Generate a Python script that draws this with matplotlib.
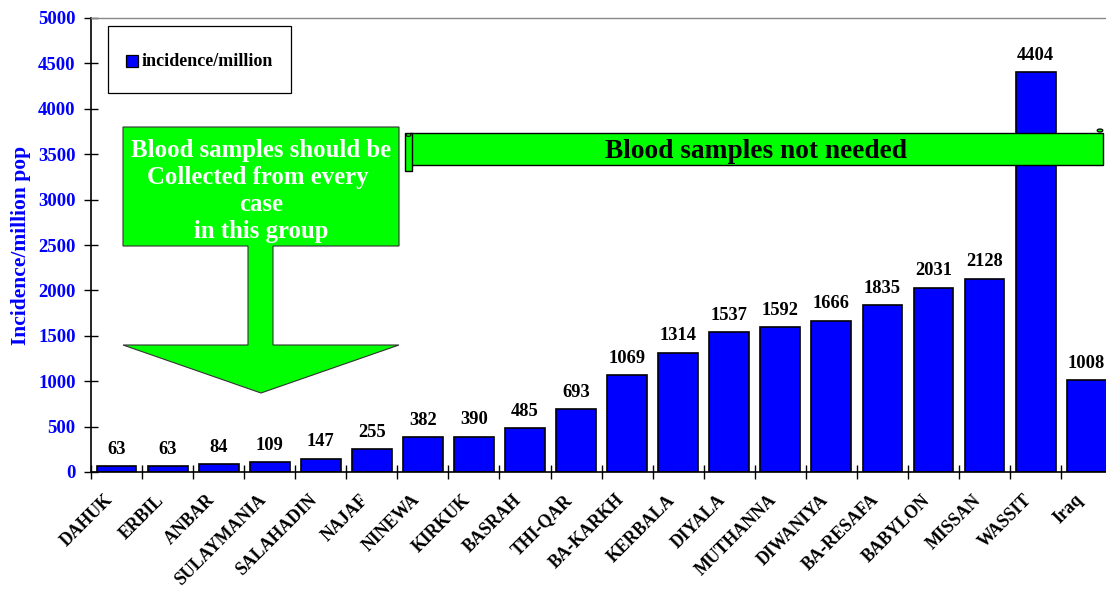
import numpy as np
import matplotlib
matplotlib.use("Agg")
import matplotlib.pyplot as plt
from matplotlib.patches import Polygon, Rectangle, Circle

# governorate incidence per million population
regions = ["DAHUK", "ERBIL", "ANBAR", "SULAYMANIA", "SALAHADIN", "NAJAF",
           "NINEWA", "KIRKUK", "BASRAH", "THI-QAR", "BA-KARKH", "KERBALA",
           "DIYALA", "MUTHANNA", "DIWANIYA", "BA-RESAFA", "BABYLON", "MISSAN",
           "WASSIT", "Iraq"]
incidence = [63, 63, 84, 109, 147, 255, 382, 390, 485, 693, 1069, 1314,
             1537, 1592, 1666, 1835, 2031, 2128, 4404, 1008]
yticks = list(range(0, 5001, 500))

plt.rcParams['font.family'] = ['Liberation Serif', 'DejaVu Serif']
plt.rcParams['font.weight'] = 'bold'

W, H = 1106, 591
fig = plt.figure(figsize=(W / 100, H / 100), dpi=100)


def px(x, y):
    # pixel position (from top-left) -> figure fraction
    return (x / W, 1 - y / H)


ax = fig.add_axes([91 / W, (H - 472) / H, (W - 91) / W, 454 / H])
x = np.arange(len(regions))
bars = ax.bar(x, incidence, width=0.78, color='#0000FF', edgecolor='black',
              linewidth=1.2, zorder=2)
for xi, v in zip(x, incidence):
    ax.annotate(str(v), (xi, v), xytext=(0, 6), textcoords='offset points',
                ha='center', va='bottom', fontsize=13.3, fontweight='bold')

ax.set_yticks(yticks)
ax.set_yticklabels([str(t) for t in yticks], color='#0000FF', fontsize=13.5,
                   fontweight='bold')
ax.tick_params(axis='y', direction='inout', length=10, width=1, pad=6)
ax.set_xticks(x)
ax.set_xticklabels(regions, rotation=45, ha='right', fontsize=12.8,
                   fontweight='bold')
ax.tick_params(axis='x', which='major', length=0, pad=14)
ax.set_xticks(np.arange(-0.5, len(regions), 1), minor=True)
ax.tick_params(axis='x', which='minor', direction='inout', length=10, width=1)
# limits after the ticks, otherwise set_xticks widens the view
ax.set_xlim(-0.5, -0.5 + (W - 91) / 51.06)
ax.set_ylim(0, 5000)
ax.set_ylabel('Incidence/million pop', color='#0000FF', fontsize=15.5,
              fontweight='bold', labelpad=5)
ax.spines['right'].set_visible(False)
ax.spines['top'].set_color('#888888')
ax.spines['top'].set_linewidth(1)
ax.spines['left'].set_linewidth(1.2)
ax.spines['bottom'].set_linewidth(1.2)

# legend box
lx0, ly0 = px(108, 93)
lx1, ly1 = px(291, 26)
fig.patches.append(Rectangle((lx0, ly0), lx1 - lx0, ly1 - ly0,
                             transform=fig.transFigure, facecolor='white',
                             edgecolor='black', linewidth=0.9, zorder=5))
mx0, my0 = px(126, 67)
mx1, my1 = px(138, 55)
fig.patches.append(Rectangle((mx0, my0), mx1 - mx0, my1 - my0,
                             transform=fig.transFigure, facecolor='#0000FF',
                             edgecolor='black', linewidth=0.9, zorder=6))
fig.text(*px(142, 61), 'incidence/million', ha='left', va='center',
         fontsize=13, fontweight='bold', zorder=7)

# green arrow
arrow_px = [(123, 127), (399, 127), (399, 246), (273, 246), (273, 345),
            (399, 345), (261, 393), (123, 345), (248, 345), (248, 246),
            (123, 246)]
fig.patches.append(Polygon([px(*p) for p in arrow_px], closed=True,
                           transform=fig.transFigure, facecolor='#00FF00',
                           edgecolor='#333333', linewidth=0.8, zorder=5))
fig.text(*px(261, 191), 'Blood samples should be\nCollected from every \ncase\nin this group',
         ha='center', va='center', color='white', fontsize=17.8,
         fontweight='bold', linespacing=1.24, zorder=6)

# scroll banner
bx0, by0 = px(410, 165)
bx1, by1 = px(1103, 133)
fig.patches.append(Rectangle((bx0, by0), bx1 - bx0, by1 - by0,
                             transform=fig.transFigure, facecolor='#00FF00',
                             edgecolor='black', linewidth=1, zorder=5))
rx0, ry0 = px(405, 171)
rx1, ry1 = px(412, 133)
fig.patches.append(Rectangle((rx0, ry0), rx1 - rx0, ry1 - ry0,
                             transform=fig.transFigure, facecolor='#00FF00',
                             edgecolor='black', linewidth=1, zorder=6))
fig.patches.append(Circle(px(408.5, 135), 2.5 / W, transform=fig.transFigure,
                          facecolor='#00FF00', edgecolor='black',
                          linewidth=0.8, zorder=7))
fig.patches.append(Circle(px(1100, 130.5), 2.8 / W, transform=fig.transFigure,
                          facecolor='#00FF00', edgecolor='black',
                          linewidth=0.9, zorder=7))
fig.text(*px(756, 151), 'Blood samples not needed', ha='center',
         va='center', color='black', fontsize=19.7, fontweight='bold', zorder=7)

fig.savefig('out.png', dpi=100)
